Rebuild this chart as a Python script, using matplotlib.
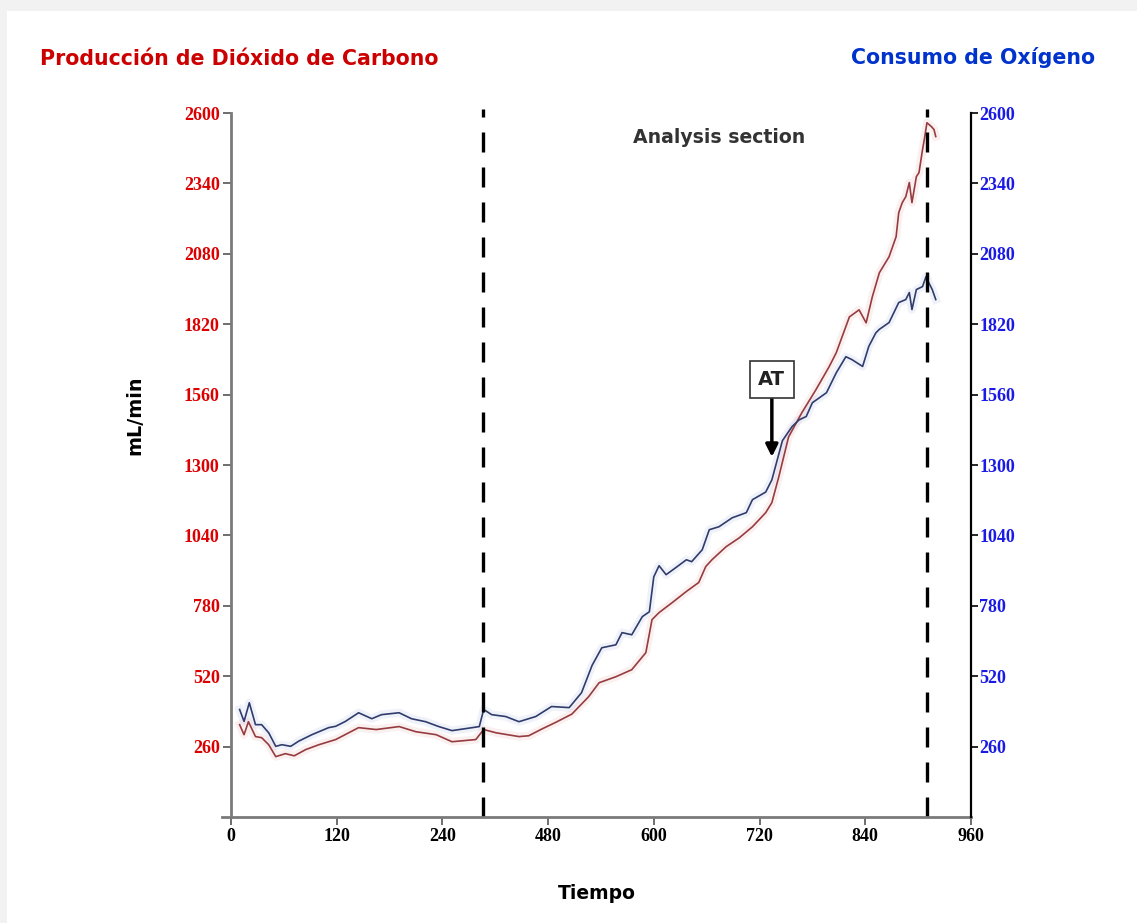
import matplotlib
matplotlib.use("Agg")
import matplotlib.pyplot as plt
from matplotlib.patches import Rectangle

# time axis positions (evenly spaced ticks, labels as printed on the axis)
tick_pos = [0, 120, 240, 360, 480, 600, 720, 840]
tick_labels = ["0", "120", "240", "480", "600", "720", "840", "960"]
y_ticks = [260, 520, 780, 1040, 1300, 1560, 1820, 2080, 2340, 2600]

# oxygen consumption (mL/min)
t_o2 = [10, 15, 21, 28, 35, 43, 51, 58, 68, 77, 92, 111, 119, 130, 145, 160,
        171, 191, 205, 221, 236, 251, 274, 282, 287, 296, 312, 327, 346, 364,
        384, 398, 410, 421, 437, 444, 455, 467, 475, 480, 486, 494, 505, 517,
        523, 535, 543, 554, 569, 585, 592, 607, 614, 626, 637, 645, 653, 660,
        676, 687, 698, 705, 717, 724, 732, 736, 747, 758, 766, 770, 773, 778,
        785, 789, 792, 796, 800]
vo2 = [397, 353, 422, 341, 341, 311, 261, 267, 261, 280, 304, 330, 335, 353,
       385, 363, 378, 385, 363, 352, 334, 319, 330, 334, 397, 378, 371, 352,
       371, 408, 404, 459, 560, 625, 636, 681, 673, 740, 758, 887, 928, 895,
       921, 950, 943, 987, 1061, 1072, 1105, 1124, 1172, 1200, 1245, 1390,
       1442, 1467, 1479, 1530, 1567, 1640, 1700, 1689, 1664, 1738, 1788, 1801,
       1826, 1900, 1911, 1937, 1874, 1948, 1959, 1996, 1974, 1948, 1911]

# carbon dioxide production (mL/min)
t_co2 = [10, 15, 20, 28, 35, 43, 51, 62, 72, 85, 100, 119, 145, 165, 191, 210,
         233, 251, 278, 287, 301, 327, 338, 353, 369, 387, 406, 418, 437, 455,
         471, 478, 486, 501, 517, 531, 539, 546, 562, 577, 592, 607, 614, 622,
         633, 648, 664, 679, 687, 702, 713, 721, 728, 736, 747, 755, 758, 762,
         766, 770, 773, 778, 781, 785, 787, 790, 795, 798, 800]
vco2 = [341, 304, 352, 297, 293, 267, 223, 234, 226, 249, 267, 286, 330, 323,
        334, 315, 304, 278, 286, 323, 311, 297, 300, 325, 350, 380, 444, 496,
        518, 544, 607, 729, 755, 792, 833, 866, 925, 950, 998, 1031, 1072,
        1124, 1161, 1258, 1404, 1493, 1578, 1663, 1714, 1847, 1873, 1825, 1921,
        2010, 2069, 2143, 2232, 2269, 2291, 2343, 2269, 2365, 2380, 2465, 2502,
        2564, 2550, 2539, 2513]

section_start = 286
section_end = 790
at_time = 614
at_value = 1330

red_line = "#963c40"
blue_line = "#303c6c"

fig = plt.figure(figsize=(11.37, 9.23), dpi=100)
fig.patch.set_facecolor("#f2f2f2")
fig.patches.append(Rectangle((7 / 1137, 0), 1, 1 - 11 / 923, transform=fig.transFigure,
                             facecolor="white", edgecolor="none", zorder=-1))

ax = fig.add_axes([222 / 1137, 1 - 817 / 923, (971 - 222) / 1137, (817 - 113) / 923])
ax.set_facecolor("none")
ax2 = ax.twinx()

# soft halo under each trace, then the trace itself
ax.plot(t_co2, vco2, color="#e8a0a0", lw=6, alpha=0.15, solid_joinstyle="round")
ax.plot(t_o2, vo2, color="#a0a8e0", lw=6, alpha=0.15, solid_joinstyle="round")
ax.plot(t_co2, vco2, color=red_line, lw=1.2)
ax.plot(t_o2, vo2, color=blue_line, lw=1.2)

for xv in (section_start, section_end):
    ax.axvline(xv, ymin=0, ymax=1.005, color="black", lw=2.4, dashes=(6, 4.5), clip_on=False)

ax.set_xlim(-10, 840)
ax.set_ylim(0, 2600)

# spine placement resets the ticks, so do it before styling the labels
ax.spines["top"].set_visible(False)
ax.spines["right"].set_visible(False)
ax.spines["left"].set_position(("data", 0))
ax.spines["left"].set_color("#7a7a7a")
ax.spines["left"].set_linewidth(2)
ax.spines["bottom"].set_color("#7a7a7a")
ax.spines["bottom"].set_linewidth(2)

tick_font = dict(fontfamily="Liberation Serif", fontweight="bold", fontsize=13)
ax.set_xticks(tick_pos, labels=tick_labels, color="black", **tick_font)
ax.set_yticks(y_ticks, labels=[str(v) for v in y_ticks], color="#dd0000", **tick_font)
ax.tick_params(axis="both", direction="out", length=6, width=1.2, color="#555555", pad=2)

# right-hand axis for oxygen
ax2.set_ylim(0, 2600)
for side in ("top", "left", "bottom"):
    ax2.spines[side].set_visible(False)
ax2.spines["right"].set_color("black")
ax2.spines["right"].set_linewidth(1.6)
ax2.set_yticks(y_ticks, labels=[str(v) for v in y_ticks], color="#1a1ae6", **tick_font)
ax2.tick_params(axis="y", direction="out", length=5, width=1.2, pad=1)

ax.set_ylabel("mL/min", fontsize=13.8, fontweight="bold")
ax.yaxis.set_label_coords(-0.103, 0.57)
ax.set_xlabel("Tiempo", fontsize=13.5, fontweight="bold", labelpad=28)

fig.text(40 / 1137, 1 - 59 / 923, "Producción de Dióxido de Carbono", color="#cc0000",
         fontsize=14.8, fontweight="bold", va="center", ha="left")
fig.text(1095 / 1137, 1 - 57 / 923, "Consumo de Oxígeno", color="#0033cc",
         fontsize=14.8, fontweight="bold", va="center", ha="right")
ax.text(554, 2508, "Analysis section", color="#333333", fontsize=13.6,
        fontweight="bold", ha="center", va="center")

ax.annotate("AT", xy=(at_time, at_value), xytext=(at_time, 1615),
            ha="center", va="center", fontsize=14, fontweight="bold", color="#222222",
            bbox=dict(boxstyle="square,pad=0.45", fc="white", ec="#333333", lw=1.2),
            arrowprops=dict(arrowstyle="-|>", color="black", lw=2.5,
                            mutation_scale=18, shrinkA=0, shrinkB=0))

fig.savefig("out.png", dpi=100, facecolor=fig.get_facecolor())
